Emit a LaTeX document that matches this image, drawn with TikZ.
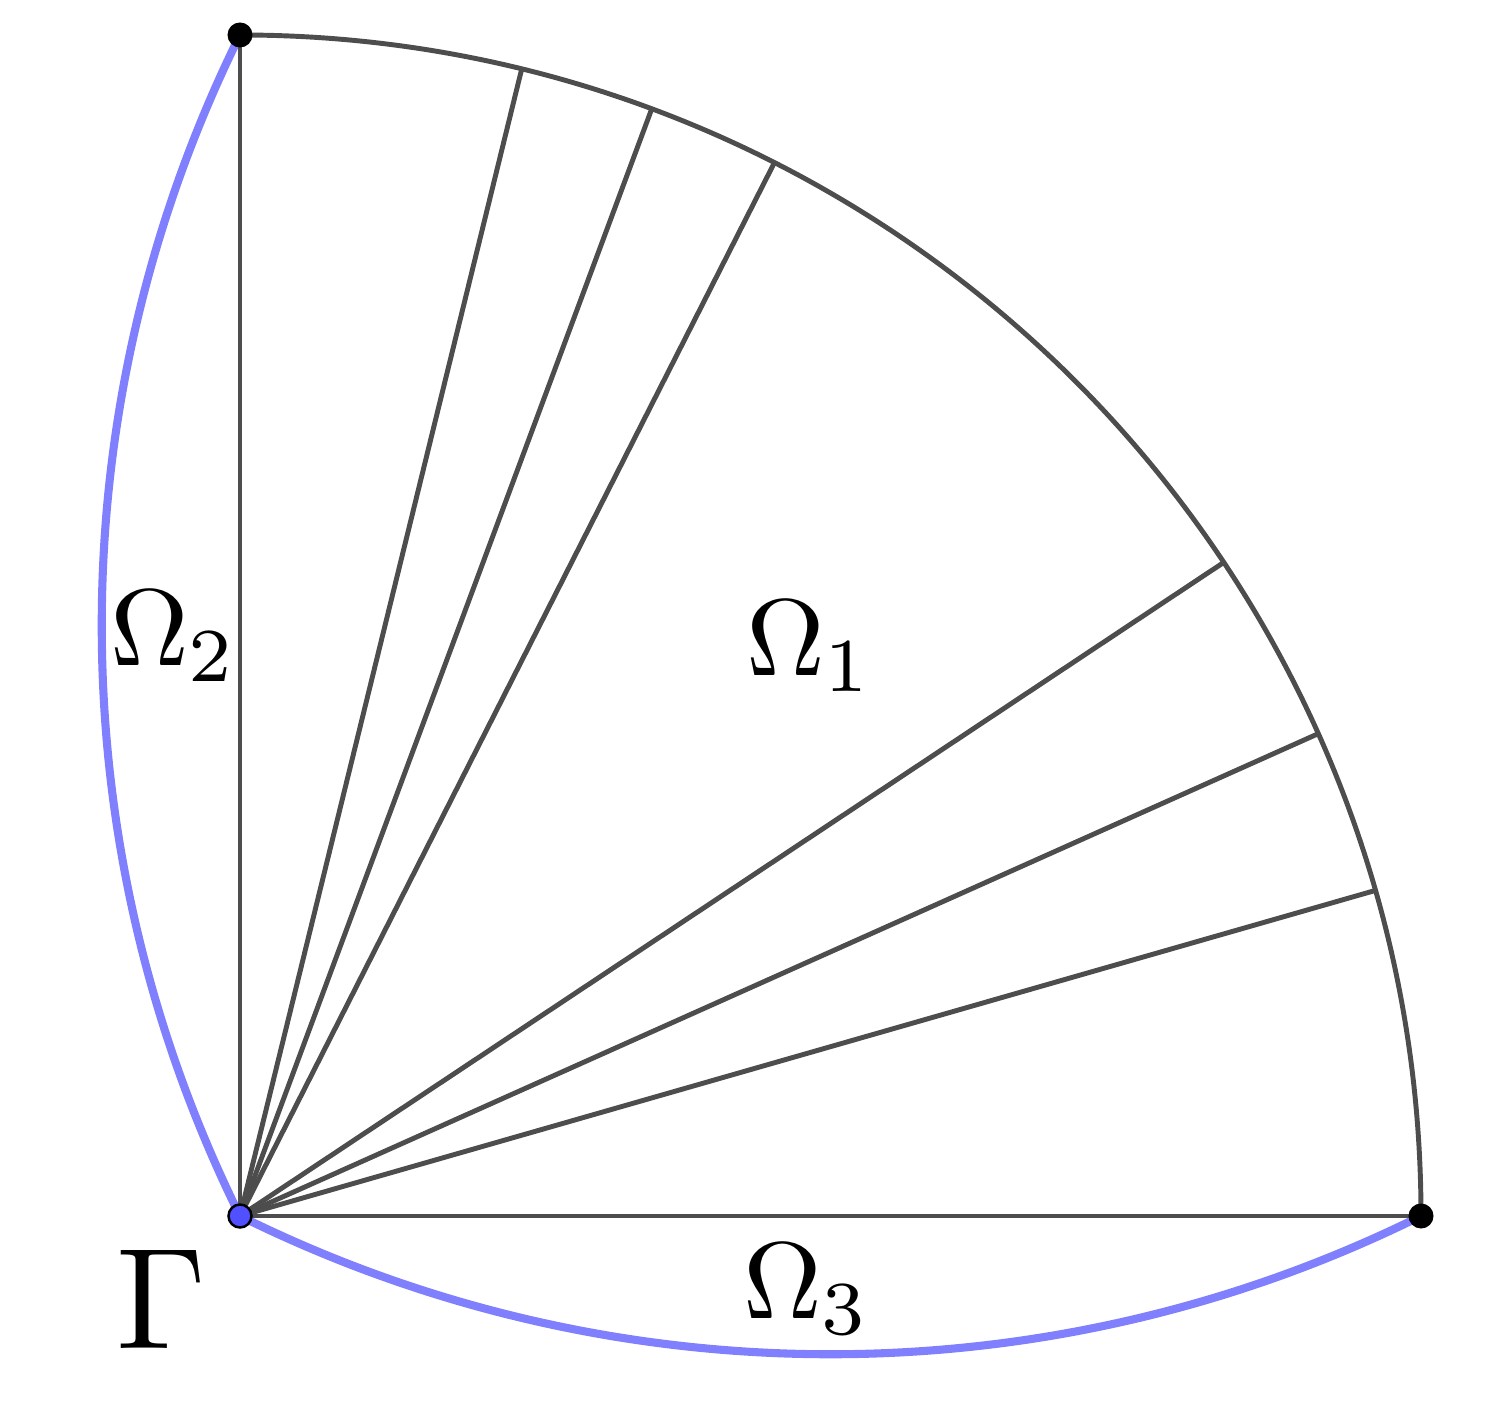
\documentclass[tikz,border=0pt]{standalone}
\usepackage{xcolor}

\definecolor{edgegray}{HTML}{4D4D4D}
\definecolor{bdryblue}{HTML}{8080FF}
\definecolor{ptblue}{HTML}{5050FF}

\begin{document}
\begin{tikzpicture}[
  ray/.style={edgegray,line width=1.4pt},
  bdry/.style={bdryblue,line width=2.3pt},
  pt/.style={circle,fill=black,inner sep=0pt,minimum size=0.25cm},
  lab/.style={scale=3.1}]
\useasboundingbox (-2.40,-1.90) rectangle (12.56,12.16);

\coordinate (O) at (0,0);
\coordinate (top) at (90:11.81);
\coordinate (right) at (0:11.81);

% boundary pieces
\draw[bdry] (O) arc[start angle=206.36,end angle=153.64,radius=13.3];
\draw[bdry] (O) arc[start angle=243.64,end angle=296.36,radius=13.3];

% sector and its rays
\draw[ray] (top) arc[start angle=90,end angle=0,radius=11.81];
\draw[ray] (O) -- (top);
\draw[ray] (O) -- (right);
\foreach \a [count=\i] in {76.2,69.6,63.1,33.6,24.1,16.0} {
  \coordinate (p\i) at (\a:11.81);
  \draw[ray] (O) -- (p\i);
}

\node[pt] (dotT) at (top) {};
\node[pt] (dotR) at (right) {};
\node[pt,fill=ptblue,draw=black,line width=0.7pt,minimum size=0.23cm] (dotO) at (O) {};

\node[lab] (om1) at (5.70,5.70) {$\Omega_1$};
\node[lab] (om2) at (-0.66,5.80) {$\Omega_2$};
\node[lab] (om3) at (5.67,-0.73) {$\Omega_3$};
\node[scale=4.1] (gam) at (-0.78,-0.83) {$\Gamma$};
\end{tikzpicture}
\end{document}
